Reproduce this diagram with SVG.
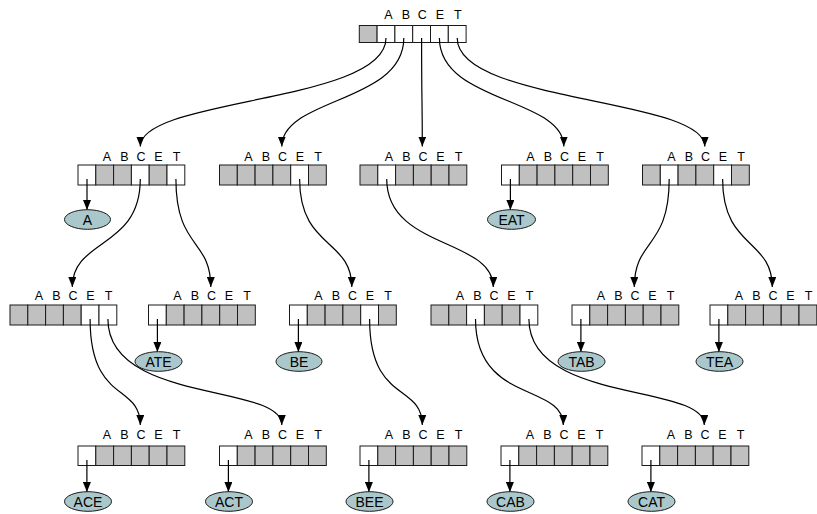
<svg xmlns="http://www.w3.org/2000/svg" width="817" height="514" viewBox="0 0 817 514">
<defs>
<style>
.g{fill:#c0c0c0;stroke:#1a1a1a;stroke-width:1}
.w{fill:#ffffff;stroke:#1a1a1a;stroke-width:1}
.lb{font-family:"Liberation Sans",Arial,sans-serif;font-size:12.5px;fill:#000;text-anchor:middle}
.el{fill:#aac8cc;stroke:#1a1a1a;stroke-width:1}
.et{font-family:"Liberation Sans",Arial,sans-serif;font-size:14px;fill:#000;text-anchor:middle}
.c{fill:none;stroke:#000;stroke-width:1.2}
</style>
<marker id="ah" markerUnits="userSpaceOnUse" markerWidth="10" markerHeight="8" viewBox="0 0 10 8" refX="10" refY="4" orient="auto">
<path d="M0,0 L10,4 L0,8 z" fill="#000"/>
</marker>
<g id="lab">
<text class="lb" x="29">A</text><text class="lb" x="46.5">B</text><text class="lb" x="63">C</text><text class="lb" x="80.5">E</text><text class="lb" x="98.5">T</text>
</g>
</defs>
<rect width="817" height="514" fill="#fff"/>

<!-- root -->
<g id="root" transform="translate(359.3,25.5)">
<rect class="g" x="0" y="0" width="17.8" height="17"/><rect class="w" x="17.8" y="0" width="17.8" height="17"/><rect class="w" x="35.6" y="0" width="17.8" height="17"/><rect class="w" x="53.4" y="0" width="17.8" height="17"/><rect class="w" x="71.2" y="0" width="17.8" height="17"/><rect class="w" x="89" y="0" width="17.8" height="17"/>
<use href="#lab" y="-7"/>
</g>

<!-- level 1 -->
<g id="nA" transform="translate(78,165)">
<rect class="w" x="0" y="0" width="17.8" height="20"/><rect class="g" x="17.8" y="0" width="17.8" height="20"/><rect class="g" x="35.6" y="0" width="17.8" height="20"/><rect class="w" x="53.4" y="0" width="17.8" height="20"/><rect class="g" x="71.2" y="0" width="17.8" height="20"/><rect class="w" x="89" y="0" width="17.8" height="20"/>
<use href="#lab" y="-4.5"/>
</g>
<g id="nB" transform="translate(219.5,165)">
<rect class="g" x="0" y="0" width="17.8" height="20"/><rect class="g" x="17.8" y="0" width="17.8" height="20"/><rect class="g" x="35.6" y="0" width="17.8" height="20"/><rect class="g" x="53.4" y="0" width="17.8" height="20"/><rect class="w" x="71.2" y="0" width="17.8" height="20"/><rect class="g" x="89" y="0" width="17.8" height="20"/>
<use href="#lab" y="-4.5"/>
</g>
<g id="nC" transform="translate(360,165)">
<rect class="g" x="0" y="0" width="17.8" height="20"/><rect class="w" x="17.8" y="0" width="17.8" height="20"/><rect class="g" x="35.6" y="0" width="17.8" height="20"/><rect class="g" x="53.4" y="0" width="17.8" height="20"/><rect class="g" x="71.2" y="0" width="17.8" height="20"/><rect class="g" x="89" y="0" width="17.8" height="20"/>
<use href="#lab" y="-4.5"/>
</g>
<g id="nE" transform="translate(501.5,165)">
<rect class="w" x="0" y="0" width="17.8" height="20"/><rect class="g" x="17.8" y="0" width="17.8" height="20"/><rect class="g" x="35.6" y="0" width="17.8" height="20"/><rect class="g" x="53.4" y="0" width="17.8" height="20"/><rect class="g" x="71.2" y="0" width="17.8" height="20"/><rect class="g" x="89" y="0" width="17.8" height="20"/>
<use href="#lab" y="-4.5"/>
</g>
<g id="nT" transform="translate(642.5,165)">
<rect class="g" x="0" y="0" width="17.8" height="20"/><rect class="w" x="17.8" y="0" width="17.8" height="20"/><rect class="g" x="35.6" y="0" width="17.8" height="20"/><rect class="g" x="53.4" y="0" width="17.8" height="20"/><rect class="w" x="71.2" y="0" width="17.8" height="20"/><rect class="g" x="89" y="0" width="17.8" height="20"/>
<use href="#lab" y="-4.5"/>
</g>

<!-- level 2 -->
<g id="nAC" transform="translate(10,305)">
<rect class="g" x="0" y="0" width="17.8" height="20"/><rect class="g" x="17.8" y="0" width="17.8" height="20"/><rect class="g" x="35.6" y="0" width="17.8" height="20"/><rect class="g" x="53.4" y="0" width="17.8" height="20"/><rect class="w" x="71.2" y="0" width="17.8" height="20"/><rect class="w" x="89" y="0" width="17.8" height="20"/>
<use href="#lab" y="-5"/>
</g>
<g id="nAT" transform="translate(148.5,305)">
<rect class="w" x="0" y="0" width="17.8" height="20"/><rect class="g" x="17.8" y="0" width="17.8" height="20"/><rect class="g" x="35.6" y="0" width="17.8" height="20"/><rect class="g" x="53.4" y="0" width="17.8" height="20"/><rect class="g" x="71.2" y="0" width="17.8" height="20"/><rect class="g" x="89" y="0" width="17.8" height="20"/>
<use href="#lab" y="-5"/>
</g>
<g id="nBE" transform="translate(289.5,305)">
<rect class="w" x="0" y="0" width="17.8" height="20"/><rect class="g" x="17.8" y="0" width="17.8" height="20"/><rect class="g" x="35.6" y="0" width="17.8" height="20"/><rect class="g" x="53.4" y="0" width="17.8" height="20"/><rect class="w" x="71.2" y="0" width="17.8" height="20"/><rect class="g" x="89" y="0" width="17.8" height="20"/>
<use href="#lab" y="-5"/>
</g>
<g id="nCA" transform="translate(431,305)">
<rect class="g" x="0" y="0" width="17.8" height="20"/><rect class="g" x="17.8" y="0" width="17.8" height="20"/><rect class="w" x="35.6" y="0" width="17.8" height="20"/><rect class="g" x="53.4" y="0" width="17.8" height="20"/><rect class="g" x="71.2" y="0" width="17.8" height="20"/><rect class="w" x="89" y="0" width="17.8" height="20"/>
<use href="#lab" y="-5"/>
</g>
<g id="nTA" transform="translate(572,305)">
<rect class="w" x="0" y="0" width="17.8" height="20"/><rect class="g" x="17.8" y="0" width="17.8" height="20"/><rect class="g" x="35.6" y="0" width="17.8" height="20"/><rect class="g" x="53.4" y="0" width="17.8" height="20"/><rect class="g" x="71.2" y="0" width="17.8" height="20"/><rect class="g" x="89" y="0" width="17.8" height="20"/>
<use href="#lab" y="-5"/>
</g>
<g id="nTE" transform="translate(710,305)">
<rect class="w" x="0" y="0" width="17.8" height="20"/><rect class="g" x="17.8" y="0" width="17.8" height="20"/><rect class="g" x="35.6" y="0" width="17.8" height="20"/><rect class="g" x="53.4" y="0" width="17.8" height="20"/><rect class="g" x="71.2" y="0" width="17.8" height="20"/><rect class="g" x="89" y="0" width="17.8" height="20"/>
<use href="#lab" y="-5"/>
</g>

<!-- level 3 -->
<g id="nACE" transform="translate(78,446)">
<rect class="w" x="0" y="0" width="17.8" height="19.5"/><rect class="g" x="17.8" y="0" width="17.8" height="19.5"/><rect class="g" x="35.6" y="0" width="17.8" height="19.5"/><rect class="g" x="53.4" y="0" width="17.8" height="19.5"/><rect class="g" x="71.2" y="0" width="17.8" height="19.5"/><rect class="g" x="89" y="0" width="17.8" height="19.5"/>
<use href="#lab" y="-7.5"/>
</g>
<g id="nACT" transform="translate(219.5,446)">
<rect class="w" x="0" y="0" width="17.8" height="19.5"/><rect class="g" x="17.8" y="0" width="17.8" height="19.5"/><rect class="g" x="35.6" y="0" width="17.8" height="19.5"/><rect class="g" x="53.4" y="0" width="17.8" height="19.5"/><rect class="g" x="71.2" y="0" width="17.8" height="19.5"/><rect class="g" x="89" y="0" width="17.8" height="19.5"/>
<use href="#lab" y="-7.5"/>
</g>
<g id="nBEE" transform="translate(360,446)">
<rect class="w" x="0" y="0" width="17.8" height="19.5"/><rect class="g" x="17.8" y="0" width="17.8" height="19.5"/><rect class="g" x="35.6" y="0" width="17.8" height="19.5"/><rect class="g" x="53.4" y="0" width="17.8" height="19.5"/><rect class="g" x="71.2" y="0" width="17.8" height="19.5"/><rect class="g" x="89" y="0" width="17.8" height="19.5"/>
<use href="#lab" y="-7.5"/>
</g>
<g id="nCAB" transform="translate(501,446)">
<rect class="w" x="0" y="0" width="17.8" height="19.5"/><rect class="g" x="17.8" y="0" width="17.8" height="19.5"/><rect class="g" x="35.6" y="0" width="17.8" height="19.5"/><rect class="g" x="53.4" y="0" width="17.8" height="19.5"/><rect class="g" x="71.2" y="0" width="17.8" height="19.5"/><rect class="g" x="89" y="0" width="17.8" height="19.5"/>
<use href="#lab" y="-7.5"/>
</g>
<g id="nCAT" transform="translate(642,446)">
<rect class="w" x="0" y="0" width="17.8" height="19.5"/><rect class="g" x="17.8" y="0" width="17.8" height="19.5"/><rect class="g" x="35.6" y="0" width="17.8" height="19.5"/><rect class="g" x="53.4" y="0" width="17.8" height="19.5"/><rect class="g" x="71.2" y="0" width="17.8" height="19.5"/><rect class="g" x="89" y="0" width="17.8" height="19.5"/>
<use href="#lab" y="-7.5"/>
</g>

<!-- connectors -->
<g id="connectors">
<path class="c" marker-end="url(#ah)" d="M386,38 C386,103 140.3,97.7 140.3,146.5"/>
<path class="c" marker-end="url(#ah)" d="M403.8,38 C403.8,103 281.8,97.7 281.8,146.5"/>
<path class="c" marker-end="url(#ah)" d="M421.6,38 C421.6,103 422.3,97.7 422.3,146.5"/>
<path class="c" marker-end="url(#ah)" d="M439.4,38 C439.4,103 563.8,97.7 563.8,146.5"/>
<path class="c" marker-end="url(#ah)" d="M457.2,38 C457.2,103 704.8,97.7 704.8,146.5"/>
<path class="c" marker-end="url(#ah)" d="M140.3,179 C140.3,249 72.3,238.4 72.3,287"/>
<path class="c" marker-end="url(#ah)" d="M175.9,179 C175.9,249 210.8,238.4 210.8,287"/>
<path class="c" marker-end="url(#ah)" d="M299.6,179 C299.6,249 351.8,238.4 351.8,287"/>
<path class="c" marker-end="url(#ah)" d="M386.7,179 C386.7,249 493.3,238.4 493.3,287"/>
<path class="c" marker-end="url(#ah)" d="M669.2,179 C669.2,249 634.3,238.4 634.3,287"/>
<path class="c" marker-end="url(#ah)" d="M722.6,179 C722.6,249 772.3,238.4 772.3,287"/>
<path class="c" marker-end="url(#ah)" d="M90.1,319 C90.1,404 140.3,383 140.3,425"/>
<path class="c" marker-end="url(#ah)" d="M107.9,319 C107.9,404 281.8,383 281.8,425"/>
<path class="c" marker-end="url(#ah)" d="M369.6,319 C369.6,404 422.3,383 422.3,425"/>
<path class="c" marker-end="url(#ah)" d="M475.5,319 C475.5,404 563.3,383 563.3,425"/>
<path class="c" marker-end="url(#ah)" d="M528.9,319 C528.9,404 704.3,383 704.3,425"/>
<path class="c" marker-end="url(#ah)" d="M87,179 L87,210"/>
<path class="c" marker-end="url(#ah)" d="M510.4,179 L510.4,210"/>
<path class="c" marker-end="url(#ah)" d="M157.4,319 L157.4,352"/>
<path class="c" marker-end="url(#ah)" d="M298.4,319 L298.4,352"/>
<path class="c" marker-end="url(#ah)" d="M580.9,319 L580.9,352"/>
<path class="c" marker-end="url(#ah)" d="M718.9,319 L718.9,352"/>
<path class="c" marker-end="url(#ah)" d="M86.9,460 L86.9,492"/>
<path class="c" marker-end="url(#ah)" d="M228.4,460 L228.4,492"/>
<path class="c" marker-end="url(#ah)" d="M368.9,460 L368.9,492"/>
<path class="c" marker-end="url(#ah)" d="M509.9,460 L509.9,492"/>
<path class="c" marker-end="url(#ah)" d="M650.9,460 L650.9,492"/>
</g>

<!-- word ellipses -->
<g id="wA"><ellipse class="el" cx="87.5" cy="219.5" rx="23" ry="9.8"/><text class="et" x="87.5" y="224.5">A</text></g>
<g id="wEAT"><ellipse class="el" cx="511.5" cy="219.5" rx="24" ry="9.8"/><text class="et" x="511.5" y="224.5">EAT</text></g>
<g id="wATE"><ellipse class="el" cx="158.5" cy="361.5" rx="23.5" ry="9.8"/><text class="et" x="158.5" y="366.5">ATE</text></g>
<g id="wBE"><ellipse class="el" cx="299" cy="361.5" rx="23" ry="9.8"/><text class="et" x="299" y="366.5">BE</text></g>
<g id="wTAB"><ellipse class="el" cx="581.5" cy="361.5" rx="23.5" ry="9.8"/><text class="et" x="581.5" y="366.5">TAB</text></g>
<g id="wTEA"><ellipse class="el" cx="719.5" cy="361.5" rx="23.5" ry="9.8"/><text class="et" x="719.5" y="366.5">TEA</text></g>
<g id="wACE"><ellipse class="el" cx="88" cy="501.5" rx="23.5" ry="9.8"/><text class="et" x="88" y="506.5">ACE</text></g>
<g id="wACT"><ellipse class="el" cx="229" cy="501.5" rx="23.5" ry="9.8"/><text class="et" x="229" y="506.5">ACT</text></g>
<g id="wBEE"><ellipse class="el" cx="369.5" cy="501.5" rx="23.5" ry="9.8"/><text class="et" x="369.5" y="506.5">BEE</text></g>
<g id="wCAB"><ellipse class="el" cx="510.5" cy="501.5" rx="23.5" ry="9.8"/><text class="et" x="510.5" y="506.5">CAB</text></g>
<g id="wCAT"><ellipse class="el" cx="651.5" cy="501.5" rx="23.5" ry="9.8"/><text class="et" x="651.5" y="506.5">CAT</text></g>
</svg>
